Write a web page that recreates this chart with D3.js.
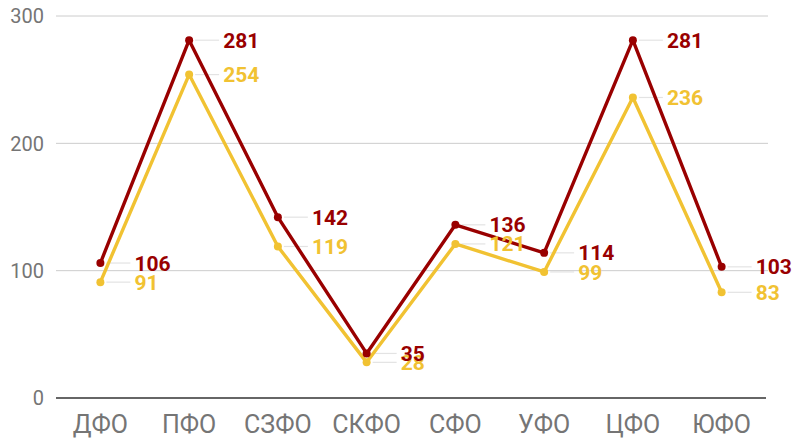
<!DOCTYPE html>
<html>
<head>
<meta charset="utf-8">
<script src="https://cdn.jsdelivr.net/npm/d3@7"></script>
<style>
  body { margin: 0; background: #fff; }
  svg { font-family: Roboto, "Noto Sans", sans-serif; }
</style>
</head>
<body>
<svg id="chart" width="792" height="442"></svg>
<script>
  const districts = ["ДФО", "ПФО", "СЗФО", "СКФО", "СФО", "УФО", "ЦФО", "ЮФО"];
  const seriesRed = [106, 281, 142, 35, 136, 114, 281, 103];
  const seriesYellow = [91, 254, 119, 28, 121, 99, 236, 83];
  const yTicks = [0, 100, 200, 300];

  (() => {
    const series = [
      { color: "#f1c232", values: seriesYellow },
      { color: "#990000", values: seriesRed },
    ];

    const svg = d3.select("#chart");
    const plotLeft = 56, plotRight = 766, plotTop = 16, plotBottom = 398;

    const x = d3.scalePoint().domain(districts).range([plotLeft, plotRight]).padding(0.5);
    const y = d3.scaleLinear().domain([0, 300]).range([plotBottom, plotTop]);

    // grid
    svg.append("g")
      .selectAll("line")
      .data(yTicks.filter((d) => d > 0))
      .join("line")
      .attr("x1", plotLeft).attr("x2", 768)
      .attr("y1", (d) => y(d)).attr("y2", (d) => y(d))
      .attr("stroke", "#cccccc").attr("stroke-width", 1);

    svg.append("line")
      .attr("x1", plotLeft).attr("x2", plotRight)
      .attr("y1", y(0)).attr("y2", y(0))
      .attr("stroke", "#333").attr("stroke-width", 1.5);

    svg.append("g")
      .selectAll("text")
      .data(yTicks)
      .join("text")
      .attr("x", 44).attr("y", (d) => y(d))
      .attr("dy", "0.36em")
      .attr("text-anchor", "end")
      .attr("fill", "#757575")
      .attr("font-size", 20)
      .text((d) => d);

    svg.append("g")
      .selectAll("text")
      .data(districts)
      .join("text")
      .attr("x", (d) => x(d)).attr("y", 424)
      .attr("dy", "0.36em")
      .attr("text-anchor", "middle")
      .attr("fill", "#757575")
      .attr("font-size", 25)
      .text((d) => d);

    const line = d3.line().x((d, i) => x(districts[i])).y((d) => y(d));

    // leader lines first
    series.forEach((s) => {
      svg.append("g")
        .selectAll("line")
        .data(s.values)
        .join("line")
        .attr("x1", (d, i) => x(districts[i]) + 6)
        .attr("x2", (d, i) => x(districts[i]) + 30)
        .attr("y1", (d) => y(d)).attr("y2", (d) => y(d))
        .attr("stroke", "#e3e3e3").attr("stroke-width", 1.2);
    });

    series.forEach((s) => {
      svg.append("path")
        .datum(s.values)
        .attr("d", line)
        .attr("fill", "none")
        .attr("stroke", s.color)
        .attr("stroke-width", 3.4)
        .attr("stroke-linejoin", "round");

      svg.append("g")
        .selectAll("circle")
        .data(s.values)
        .join("circle")
        .attr("cx", (d, i) => x(districts[i]))
        .attr("cy", (d) => y(d))
        .attr("r", 4)
        .attr("fill", s.color);
    });

    series.forEach((s) => {
      svg.append("g")
        .selectAll("text")
        .data(s.values)
        .join("text")
        .attr("x", (d, i) => x(districts[i]) + 34)
        .attr("y", (d) => y(d))
        .attr("dy", "0.36em")
        .attr("fill", s.color)
        .attr("font-size", 21)
        .attr("font-weight", "bold")
        .text((d) => d);
    });
  })();
</script>
</body>
</html>
